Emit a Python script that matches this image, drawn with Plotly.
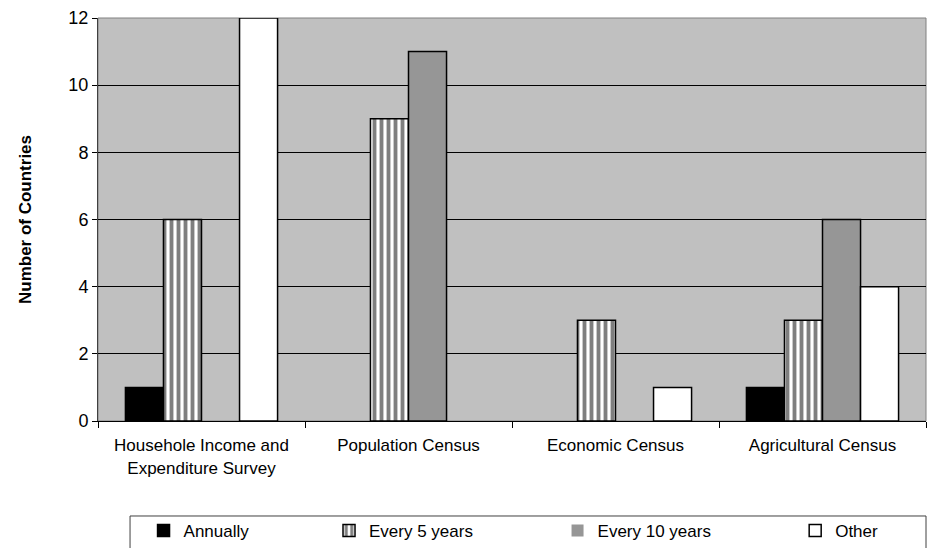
import plotly.graph_objects as go

categories = ["Househole Income and<br>Expenditure Survey", "Population Census",
              "Economic Census", "Agricultural Census"]
annually = [1, 0, 0, 1]
every_5_years = [6, 9, 3, 3]
every_10_years = [0, 11, 0, 6]
other = [12, 0, 1, 4]

FONT = "Liberation Sans, Arial, sans-serif"
FS = 18


def outline(values):
    # no outline for empty bars, so zero counts leave no mark on the baseline
    return [1.5 if v else 0 for v in values]


fig = go.Figure()
fig.add_trace(go.Bar(name="Annually", x=categories, y=annually,
                     marker=dict(color="black", line=dict(color="black", width=outline(annually))),
                     legend="legend"))
fig.add_trace(go.Bar(name="Every 5 years", x=categories, y=every_5_years,
                     marker=dict(color="white", line=dict(color="black", width=outline(every_5_years)),
                                 pattern=dict(shape="|", fgcolor="black", bgcolor="white",
                                              size=7, solidity=0.55, fillmode="overlay")),
                     legend="legend2"))
fig.add_trace(go.Bar(name="Every 10 years", x=categories, y=every_10_years,
                     marker=dict(color="#969696", line=dict(color="black", width=outline(every_10_years))),
                     legend="legend3"))
fig.add_trace(go.Bar(name="Other", x=categories, y=other,
                     marker=dict(color="white", line=dict(color="black", width=outline(other))),
                     legend="legend4"))

leg_common = dict(orientation="h", yref="container", yanchor="middle", y=0.031,
                  xanchor="left",
                  font=dict(family=FONT, size=FS - 1, color="black"),
                  bgcolor="rgba(0,0,0,0)", itemwidth=30, visible=True)
fig.update_layout(
    width=931, height=548,
    margin=dict(l=98, r=5, t=18, b=127, autoexpand=False),
    paper_bgcolor="white", plot_bgcolor="#C0C0C0",
    barmode="group", bargap=0.265, bargroupgap=0,
    showlegend=True,
    font=dict(family=FONT, size=FS, color="black"),
    legend=dict(leg_common, x=0.055),
    legend2=dict(leg_common, x=0.279),
    legend3=dict(leg_common, x=0.555),
    legend4=dict(leg_common, x=0.842),
    xaxis=dict(showline=True, linecolor="black", linewidth=1,
               ticks="outside", ticklen=6, tickcolor="black", tickson="boundaries",
               ticklabelstandoff=9,
               tickfont=dict(family=FONT, size=FS - 1), showgrid=False),
    yaxis=dict(range=[0, 12], dtick=2, showline=True, linecolor="#404040", linewidth=1,
               ticks="outside", ticklen=5, tickcolor="black",
               showgrid=True, gridcolor="black", gridwidth=1, zeroline=False,
               tickfont=dict(family=FONT, size=FS),
               title=dict(text="<b>Number of Countries</b>", standoff=32,
                          font=dict(family=FONT, size=FS - 1))),
    shapes=[
        # plot-area frame on the top and right
        dict(type="rect", xref="paper", yref="paper", x0=0, x1=1, y0=0, y1=1,
             line=dict(color="#808080", width=1), layer="below"),
        # legend frame
        dict(type="rect", xref="paper", yref="paper", x0=0.0387, x1=1.0,
             y0=-0.36, y1=-0.2357, line=dict(color="#404040", width=1)),
    ],
)

fig.write_html("out.html")
